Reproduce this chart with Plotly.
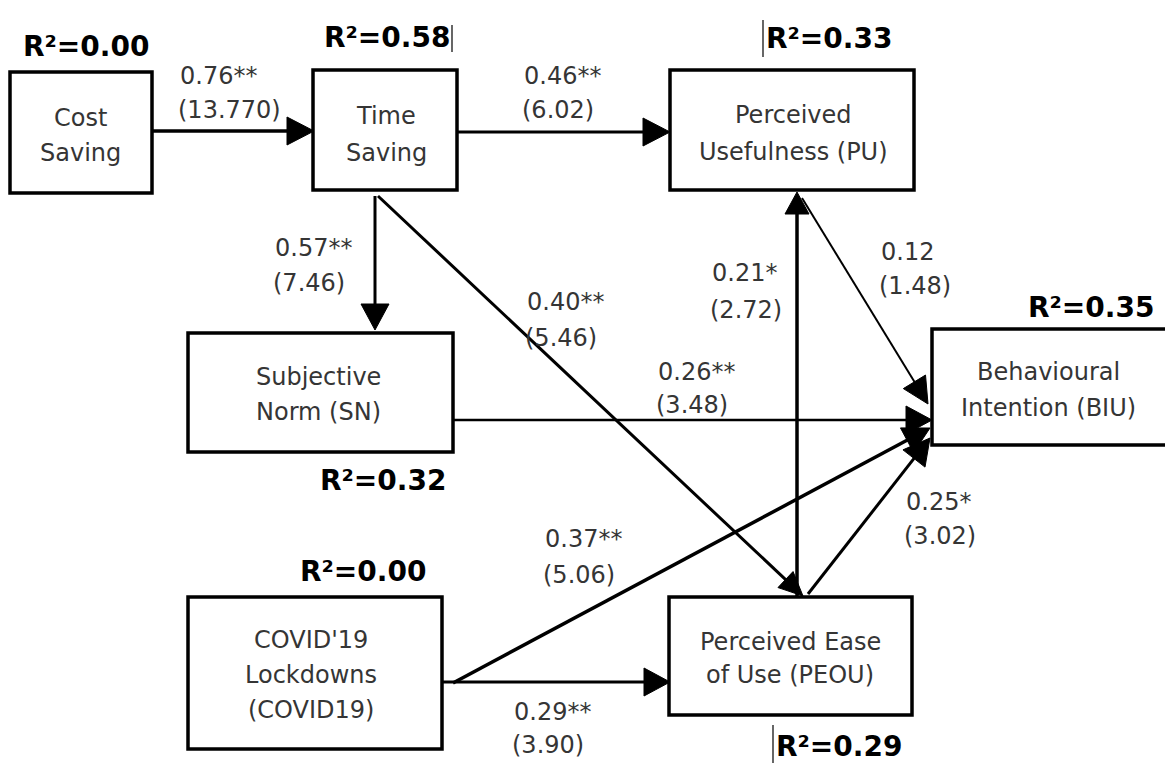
import math
import plotly.graph_objects as go

# ---------------- data ----------------
node_ids = ["CS", "TS", "PU", "SN", "BIU", "COVID", "PEOU"]
node_lines = [
    ["Cost", "Saving"],
    ["Time", "Saving"],
    ["Perceived", "Usefulness (PU)"],
    ["Subjective", "Norm (SN)"],
    ["Behavioural", "Intention (BIU)"],
    ["COVID'19", "Lockdowns", "(COVID19)"],
    ["Perceived Ease", "of Use (PEOU)"],
]
r2_values = ["0.00", "0.58", "0.33", "0.32", "0.35", "0.00", "0.29"]

path_from = ["CS", "TS", "TS", "TS", "SN", "PEOU", "PU", "COVID", "COVID", "PEOU"]
path_to = ["TS", "PU", "SN", "PEOU", "BIU", "PU", "BIU", "BIU", "PEOU", "BIU"]
path_coef = ["0.76", "0.46", "0.57", "0.40", "0.26", "0.21", "0.12", "0.37", "0.29", "0.25"]
path_sig = ["**", "**", "**", "**", "**", "*", "", "**", "**", "*"]
path_t = ["13.770", "6.02", "7.46", "5.46", "3.48", "2.72", "1.48", "5.06", "3.90", "3.02"]

# ---------------- layout (pixel coordinates on the canvas axes) ----------------
box_pos = {
    "CS": (10, 72, 152, 193),
    "TS": (313, 70, 457, 190),
    "PU": (670, 70, 914, 190),
    "SN": (188, 333, 453, 452),
    "BIU": (932, 329, 1180, 445),
    "COVID": (188, 597, 442, 749),
    "PEOU": (669, 597, 912, 715),
}
text_pos = {  # center x, line centers y
    "CS": (80, [118, 153]),
    "TS": (386, [116, 153]),
    "PU": (793, [115, 152]),
    "SN": (318, [377, 412]),
    "BIU": (1048, [372, 408]),
    "COVID": (311, [640, 675, 710]),
    "PEOU": (790, [642, 675]),
}
r2_pos = {  # left x, center y
    "CS": (21, 46),
    "TS": (322, 37),
    "PU": (764, 38),
    "SN": (318, 480),
    "BIU": (1026, 307),
    "COVID": (298, 571),
    "PEOU": (774, 746),
}
# edge geometry: start, end, line width, head length, head half-width
edge_geom = [
    ((152, 131), (314, 131), 3.5, 27, 14),
    ((457, 132), (670, 132), 3.0, 27, 14),
    ((375, 196), (375, 330), 3.0, 26, 14),
    ((378, 196), (803, 596), 3.0, 24, 11),
    ((453, 420), (932, 420), 2.5, 26, 14),
    ((797, 597), (797, 192), 3.5, 22, 12),
    ((802, 198), (928, 404), 2.0, 26, 13),
    ((453, 683), (930, 428), 3.5, 26, 14),
    ((442, 682), (670, 682), 3.0, 26, 14),
    ((808, 594), (930, 438), 3.0, 26, 14),
]
label_pos = [  # left x, coef y, t y
    (178, 76, 110),
    (522, 76, 110),
    (273, 248, 283),
    (525, 302, 338),
    (656, 372, 405),
    (710, 273, 310),
    (879, 252, 286),
    (543, 539, 575),
    (512, 712, 745),
    (904, 502, 536),
]
cursor_marks = [(452, 25, 52), (763, 20, 57), (773, 725, 763)]

FONT = "DejaVu Sans"
TXT = "#353535"

fig = go.Figure()
fig.add_trace(go.Scatter(x=[0, 1165], y=[0, 764], mode="markers",
                         marker=dict(opacity=0), hoverinfo="skip", showlegend=False))

shapes = []
annotations = []

# boxes
for nid in node_ids:
    x0, y0, x1, y1 = box_pos[nid]
    shapes.append(dict(type="rect", xref="x", yref="y", x0=x0, y0=y0, x1=x1, y1=y1,
                       line=dict(color="black", width=3.5), fillcolor="white", layer="above"))

# edges
for (s, e, lw, hl, hw) in edge_geom:
    dx, dy = e[0] - s[0], e[1] - s[1]
    L = math.hypot(dx, dy)
    ux, uy = dx / L, dy / L
    nx, ny = -uy, ux
    bx, by = e[0] - hl * ux, e[1] - hl * uy
    shapes.append(dict(type="line", xref="x", yref="y", x0=s[0], y0=s[1], x1=bx + 2 * ux, y1=by + 2 * uy,
                       line=dict(color="black", width=lw), layer="above"))
    path = (f"M {e[0]},{e[1]} L {bx + hw * nx},{by + hw * ny} "
            f"L {bx - hw * nx},{by - hw * ny} Z")
    shapes.append(dict(type="path", xref="x", yref="y", path=path,
                       fillcolor="black", line=dict(color="black", width=1), layer="above"))

# small cursor bars visible in the source image
for (x, y0, y1) in cursor_marks:
    shapes.append(dict(type="line", xref="x", yref="y", x0=x, y0=y0, x1=x, y1=y1,
                       line=dict(color="black", width=1.2), layer="above"))

# node texts
for nid, lines in zip(node_ids, node_lines):
    cx, ys = text_pos[nid]
    for line, y in zip(lines, ys):
        annotations.append(dict(x=cx, y=y, xref="x", yref="y", text=line, showarrow=False,
                                xanchor="center", yanchor="middle",
                                font=dict(family=FONT, size=24, color=TXT)))

# R^2 labels
for nid, r2 in zip(node_ids, r2_values):
    x, y = r2_pos[nid]
    annotations.append(dict(x=x, y=y, xref="x", yref="y", text=f"<b>R²={r2}</b>", showarrow=False,
                            xanchor="left", yanchor="middle",
                            font=dict(family=FONT, size=28, color="black")))

# path coefficient labels
for (x, yc, yt), c, sg, t in zip(label_pos, path_coef, path_sig, path_t):
    annotations.append(dict(x=x, y=yc, xref="x", yref="y", text=f"{c}{sg}", showarrow=False,
                            xanchor="left", yanchor="middle",
                            font=dict(family=FONT, size=24, color=TXT)))
    annotations.append(dict(x=x - 2, y=yt, xref="x", yref="y", text=f"({t})", showarrow=False,
                            xanchor="left", yanchor="middle",
                            font=dict(family=FONT, size=24, color=TXT)))

fig.update_layout(
    width=1165, height=764,
    margin=dict(l=0, r=0, t=0, b=0),
    paper_bgcolor="white", plot_bgcolor="white",
    xaxis=dict(range=[0, 1165], visible=False, fixedrange=True),
    yaxis=dict(range=[764, 0], visible=False, fixedrange=True),
    shapes=shapes, annotations=annotations,
    showlegend=False,
)

fig.write_html("out.html", config={"displayModeBar": False},
               post_script="document.body.style.margin='0';document.body.style.overflow='hidden';")
